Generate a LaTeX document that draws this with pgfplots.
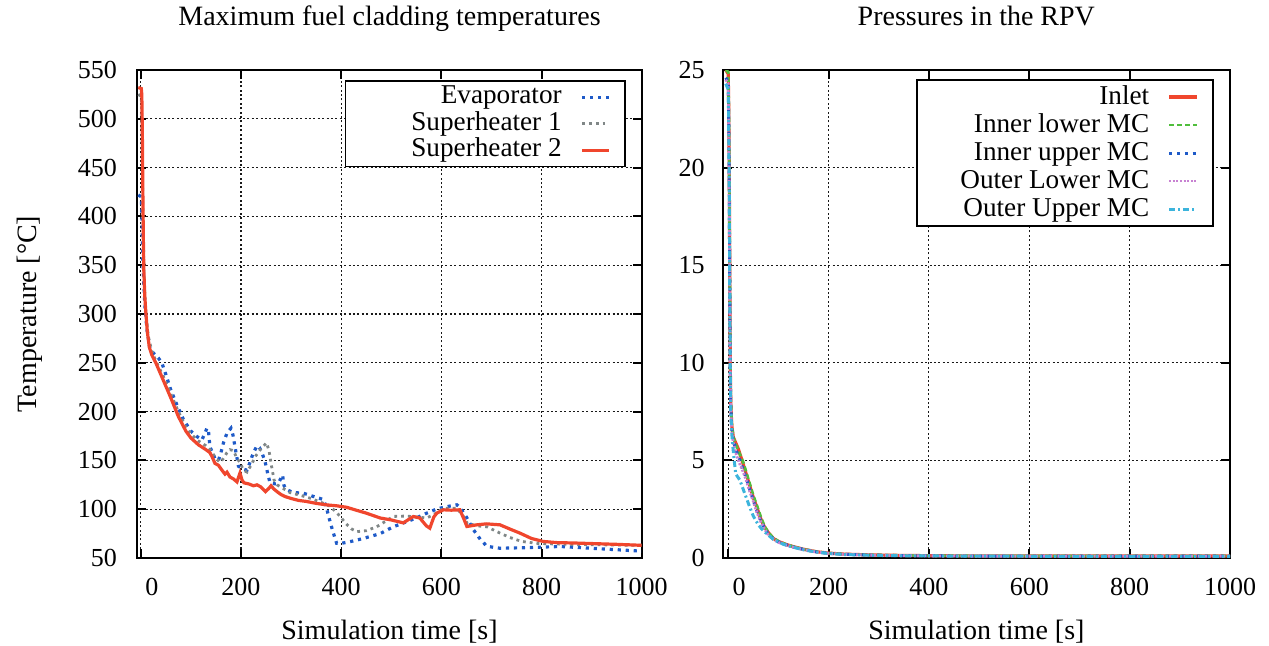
\documentclass[border=0pt]{standalone}
\usepackage{fontspec}
\setmainfont{Liberation Serif}
\usepackage{pgfplots}
\pgfplotsset{compat=1.18}
\newcommand\fnt{\fontsize{13}{15}\selectfont}
\newcommand\lfnt{\fontsize{14}{16}\selectfont}
\newcommand\gfnt{\fontsize{13.6}{16}\selectfont}
\definecolor{cred}{RGB}{240,70,45}
\definecolor{cblue}{RGB}{30,90,200}
\definecolor{cgray}{RGB}{128,135,135}
\definecolor{cgreen}{RGB}{80,190,60}
\definecolor{cviolet}{RGB}{200,130,210}
\definecolor{ccyan}{RGB}{60,180,220}
\pgfplotsset{
  myaxis/.style={
    scale only axis, height=244pt,
    axis line style={line width=1pt},
    tick align=inside, major tick length=4.5pt,
    tick style={line width=1pt, black},
    grid=major,
    major grid style={black!90, line width=0.55pt, dash pattern=on 1pt off 1.2pt},
    xmax=1000, xtick={0,200,...,1000},
    xticklabels={\hspace*{11pt}0,200,400,600,800,1000},
    /pgf/number format/assume math mode=true,
    /pgf/number format/1000 sep={},
    tick label style={font=\fnt},
    xticklabel style={inner sep=0pt, yshift=-10pt},
    label style={font=\lfnt},
    title style={font=\lfnt, at={(0.5,1.0676)}, anchor=base},
    xlabel style={at={(0.5,-0.168)}, anchor=base},
    legend plot pos=right,
    legend style={font=\gfnt, draw=black, line width=0.8pt, inner xsep=0pt, inner ysep=1.5pt,
      row sep=0pt, nodes={inner sep=0pt, text height=9.8pt, text depth=3.5pt},
      /tikz/every odd column/.style={column sep=9.5pt},
      /tikz/every even column/.style={column sep=0pt}},
    no marks,
  }
}
\begin{document}
\begin{tikzpicture}
\useasboundingbox (0,0) rectangle (634.5pt,322.5pt);
\begin{axis}[myaxis,
  at={(68.65pt,43.5pt)}, anchor=south west, width=252.2pt,
  xmin=-7, ymin=50, ymax=550, ytick={50,100,...,550},
  yticklabel style={inner sep=0pt, xshift=-10pt},
  title={Maximum fuel cladding temperatures},
  xlabel={Simulation time [s]},
  ylabel={Temperature [°C]},
  ylabel style={at={(-0.2004,0.5)}, anchor=base, rotate=0},
  legend style={at={(0.969,0.9795)}, anchor=north east},
  legend image code/.code={\draw[#1] (0pt,0pt) -- (13.5pt,0pt); \path[draw=none] (0pt,0pt) -- (21.5pt,0pt);},
]
\addplot[cblue, line width=1.6pt, line cap=butt, dash pattern=on 1.6pt off 2.4pt] coordinates {
(-5,422) (1,420) (2,405) (3,380) (4,355) (6,330) (8,310) (12,285) (18,265) (25,260) (35,255) (42,250)
(50,238) (60,222) (72,207) (85,192) (100,180) (112,174.5) (122,171) (128,178) (132,183) (135,181)
(138,164) (148,152) (155,150) (160,158) (165,168) (172,178) (180,183) (184,176) (188,164) (195,144)
(205,141) (212,140) (218,148) (222,154) (227,160) (232,165) (237,163) (241,159) (248,149) (254,135)
(258,127) (268,126) (275,127) (280,132) (283,135) (286,124) (291,120) (305,117) (324,116.5) (345,113)
(364,110) (370,103) (375,92.6) (383,78) (391,65) (400,65) (420,67) (444,70) (478,75) (504,82)
(530,87) (550,91) (571,96) (590,100) (597,101) (615,103) (631,104.5) (637,102) (650,92) (664,79)
(678,69) (691,62) (717,60) (760,60.5) (837,61.8) (900,60) (1000,57)};
\addlegendentry{\makebox[108pt][r]{Evaporator}}
\addplot[cgray, line width=1.4pt, line cap=butt, dash pattern=on 1.4pt off 2pt] coordinates {
(-5,525) (1,523) (2,500) (3,450) (5,380) (7,330) (10,302) (15,277) (22,262) (30,252) (45,236) (60,218)
(75,200) (90,184) (100,177) (115,170) (130,165) (140,160) (150,152) (158,148) (165,152) (172,158)
(178,161) (185,160) (192,152) (198,148) (205,140) (212,138) (220,145) (230,155) (240,162) (251,168)
(256,160) (260,147) (266,130) (272,125) (285,121) (298,117) (320,114) (340,111) (360,107) (378,103)
(390,97) (398,92.6) (410,85) (420,80) (431,77) (450,78) (471,82) (504,92.6) (530,93) (571,91)
(590,96) (604,101) (631,101) (645,92) (651,86) (670,83) (691,82) (715,76) (737,71) (760,67)
(791,65) (850,64) (1000,63)};
\addlegendentry{\makebox[108pt][r]{Superheater 1}}
\addplot[cred, line width=1.6pt] coordinates {
(-5,532) (1,531) (2,525) (3,490) (4,430) (5,380) (6,345) (8,318) (10,302) (13,282) (17,266)
(22,258) (30,250) (45,232) (60,214) (75,195) (90,180) (100,173) (115,166) (130,161) (138,158)
(143,153) (148,147) (155,145) (162,140) (168,136) (172,138) (178,133) (185,131) (192,128) (198,137)
(202,130) (206,127) (215,126) (225,124) (232,125) (239,123) (245,120) (249,118) (255,121) (260,124)
(265,121) (272,118) (280,115) (288,113) (300,111) (315,109) (330,108) (350,106) (370,104.5)
(391,103.5) (411,102) (430,99) (450,96) (478,91) (500,89) (524,86) (544,92.5) (557,91) (570,83)
(577,80.6) (585,92) (591,96) (604,99.4) (620,99) (637,99.4) (645,90) (651,82.3) (671,84) (690,85)
(717,84) (740,79) (757,75.5) (780,70) (803,67) (830,65.8) (870,65.3) (950,64) (1000,63)};
\addlegendentry{\makebox[108pt][r]{Superheater 2}}
\end{axis}
\begin{axis}[myaxis,
  at={(361.35pt,43.5pt)}, anchor=south west, width=253.65pt,
  xmin=-11, ymin=0, ymax=25, ytick={0,5,...,25},
  yticklabel style={inner sep=0pt, xshift=-8.8pt},
  title={Pressures in the RPV},
  xlabel={Simulation time [s]},
  legend style={at={(0.9685,0.981)}, anchor=north east,
    nodes={inner sep=0pt, text height=10.5pt, text depth=3.5pt},
    /tikz/every odd column/.style={column sep=9.2pt}},
  legend image code/.code={\draw[#1] (0pt,0pt) -- (13.7pt,0pt); \path[draw=none] (0pt,0pt) -- (22pt,0pt);},
]
\addplot[cred, line width=1.6pt] coordinates {
(-5,25) (0,24.8) (1,23) (2,20) (3,15) (4,10) (5,8) (7,6.8) (10,6.2) (15,5.9) (20,5.6) (25,5.2)
(30,4.8) (37,4.2) (43,3.7) (50,3.1) (57,2.6) (65,2.0) (72,1.6) (80,1.3) (90,1.0) (100,0.85)
(115,0.7) (130,0.58) (150,0.45) (176,0.32) (200,0.25) (230,0.2) (280,0.16) (350,0.13) (450,0.11)
(600,0.1) (800,0.1) (1000,0.1)};
\addlegendentry{\makebox[116.2pt][r]{Inlet}}
\addplot[cgreen, line width=1.4pt, dash pattern=on 2.5pt off 1.5pt] coordinates {
(-5,25) (0,24.9) (1,23.2) (2,20.5) (3,15.5) (4,10.5) (5,8.2) (7,6.9) (10,6.2) (15,5.8) (20,5.5)
(25,5.2) (30,4.9) (37,4.3) (43,3.8) (50,3.2) (57,2.7) (65,2.1) (72,1.65) (80,1.3) (90,1.02)
(100,0.86) (115,0.7) (130,0.58) (150,0.45) (176,0.32) (200,0.25) (230,0.2) (280,0.16) (350,0.13)
(450,0.11) (600,0.1) (800,0.1) (1000,0.1)};
\addlegendentry{\makebox[116.2pt][r]{Inner lower MC}}
\addplot[cblue, line width=1.5pt, line cap=butt, dash pattern=on 1.5pt off 2.4pt] coordinates {
(-5,24.6) (0,24.4) (1,22.5) (2,19.5) (3,14.5) (4,9.8) (5,7.8) (7,6.6) (10,6.0) (15,5.6) (20,5.2)
(25,4.9) (30,4.5) (37,4.0) (43,3.5) (50,2.95) (57,2.4) (65,1.9) (72,1.55) (80,1.2) (90,0.98)
(100,0.82) (115,0.68) (130,0.56) (150,0.44) (176,0.31) (200,0.24) (230,0.19) (280,0.15) (350,0.12)
(450,0.1) (600,0.1) (800,0.1) (1000,0.1)};
\addlegendentry{\makebox[116.2pt][r]{Inner upper MC}}
\addplot[cviolet, line width=1.4pt, line cap=butt, dash pattern=on 1pt off 0.8pt] coordinates {
(-5,24.5) (0,24.3) (1,22.3) (2,19.3) (3,14.3) (4,9.7) (5,7.7) (7,6.5) (10,5.9) (15,5.4) (20,5.0)
(25,4.7) (30,4.4) (37,3.9) (43,3.4) (50,2.9) (57,2.35) (65,1.85) (72,1.5) (80,1.18) (90,0.96)
(100,0.8) (115,0.67) (130,0.55) (150,0.43) (176,0.3) (200,0.24) (230,0.19) (280,0.15) (350,0.12)
(450,0.1) (600,0.09) (800,0.09) (1000,0.09)};
\addlegendentry{\makebox[116.2pt][r]{Outer Lower MC}}
\addplot[ccyan, line width=1.5pt, dash pattern=on 3pt off 1.5pt on 1pt off 1.5pt] coordinates {
(-5,24.3) (0,24.0) (1,22) (2,19) (3,14) (4,9.5) (5,7.5) (8,6.0) (12,5.0) (15,4.3) (23,4.0) (33,3.3)
(43,2.6) (50,2.15) (60,1.7) (68,1.45) (76,1.26) (90,0.95) (110,0.7) (130,0.55) (150,0.42) (176,0.3)
(200,0.23) (230,0.18) (280,0.14) (350,0.11) (450,0.1) (600,0.09) (800,0.09) (1000,0.09)};
\addlegendentry{\makebox[116.2pt][r]{Outer Upper MC}}
\end{axis}
\end{tikzpicture}
\end{document}
